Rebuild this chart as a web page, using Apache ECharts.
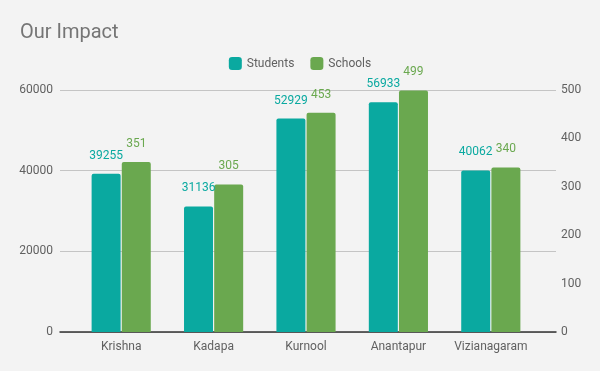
<!DOCTYPE html>
<html><head><meta charset="utf-8">
<script src="https://cdn.jsdelivr.net/npm/echarts@6/dist/echarts.min.js"></script>
<style>html,body{margin:0;padding:0;background:#f3f3f3}#c{width:600px;height:371px}</style>
</head><body><div id="c"></div>
<script>
const categories = ['Krishna','Kadapa','Kurnool','Anantapur','Vizianagaram'];
const students = [39255,31136,52929,56933,40062];
const schools = [351,305,453,499,340];
const leftTicks = {min:0,max:60000,interval:20000};
const rightTicks = {min:0,max:500,interval:100};

const font = 'Roboto';
const chart = echarts.init(document.getElementById('c'), null, {renderer:'canvas'});
chart.setOption({
  backgroundColor:'#f3f3f3',
  animation:false,
  title:{text:'Our Impact',left:15,top:18,textStyle:{fontFamily:font,fontSize:20,fontWeight:'normal',color:'#757575'}},
  legend:{top:52,left:'center',itemWidth:13,itemHeight:13,itemGap:16,icon:'roundRect',
    textStyle:{fontFamily:font,fontSize:12,color:'#616161'},data:['Students','Schools']},
  grid:[
    {left:60,right:44,top:90,bottom:39},
    {left:75,right:63,top:90,bottom:39}
  ],
  xAxis:[
    {type:'category',gridIndex:0,data:categories,show:true,axisLine:{show:true,lineStyle:{color:'#333',width:1.5}},axisTick:{show:false},axisLabel:{show:false}},
    {type:'category',gridIndex:1,data:categories,axisLine:{show:false},axisTick:{show:false},
      axisLabel:{interval:0,fontFamily:font,fontSize:12,color:'#616161',margin:9}}
  ],
  yAxis:[
    {type:'value',gridIndex:0,position:'left',min:leftTicks.min,max:leftTicks.max,interval:leftTicks.interval,
      axisLine:{show:false},axisTick:{show:false},splitLine:{lineStyle:{color:'#c4c4c4'}},
      axisLabel:{fontFamily:font,fontSize:12,color:'#616161',margin:7,formatter:v=>String(v)}},
    {type:'value',gridIndex:0,position:'right',min:rightTicks.min,max:rightTicks.max,interval:rightTicks.interval,
      axisLine:{show:false},axisTick:{show:false},splitLine:{show:false},
      axisLabel:{fontFamily:font,fontSize:12,color:'#616161',margin:5,formatter:v=>String(v)}},
    {type:'value',gridIndex:1,min:leftTicks.min,max:leftTicks.max,show:false,splitLine:{show:false}},
    {type:'value',gridIndex:1,min:rightTicks.min,max:rightTicks.max,show:false,splitLine:{show:false}}
  ],
  series:[
    {name:'Students',type:'bar',xAxisIndex:1,yAxisIndex:2,data:students,barWidth:29,barGap:'4%',
      itemStyle:{color:'#0aa9a0',borderRadius:[2,2,0,0]},
      label:{show:true,position:'top',distance:12,fontFamily:font,fontSize:12,color:'#0aa9a0'}},
    {name:'Schools',type:'bar',xAxisIndex:1,yAxisIndex:3,data:schools,barWidth:29,
      itemStyle:{color:'#6aa84f',borderRadius:[2,2,0,0]},
      label:{show:true,position:'top',distance:12,fontFamily:font,fontSize:12,color:'#6aa84f'}}
  ]
});
</script></body></html>
